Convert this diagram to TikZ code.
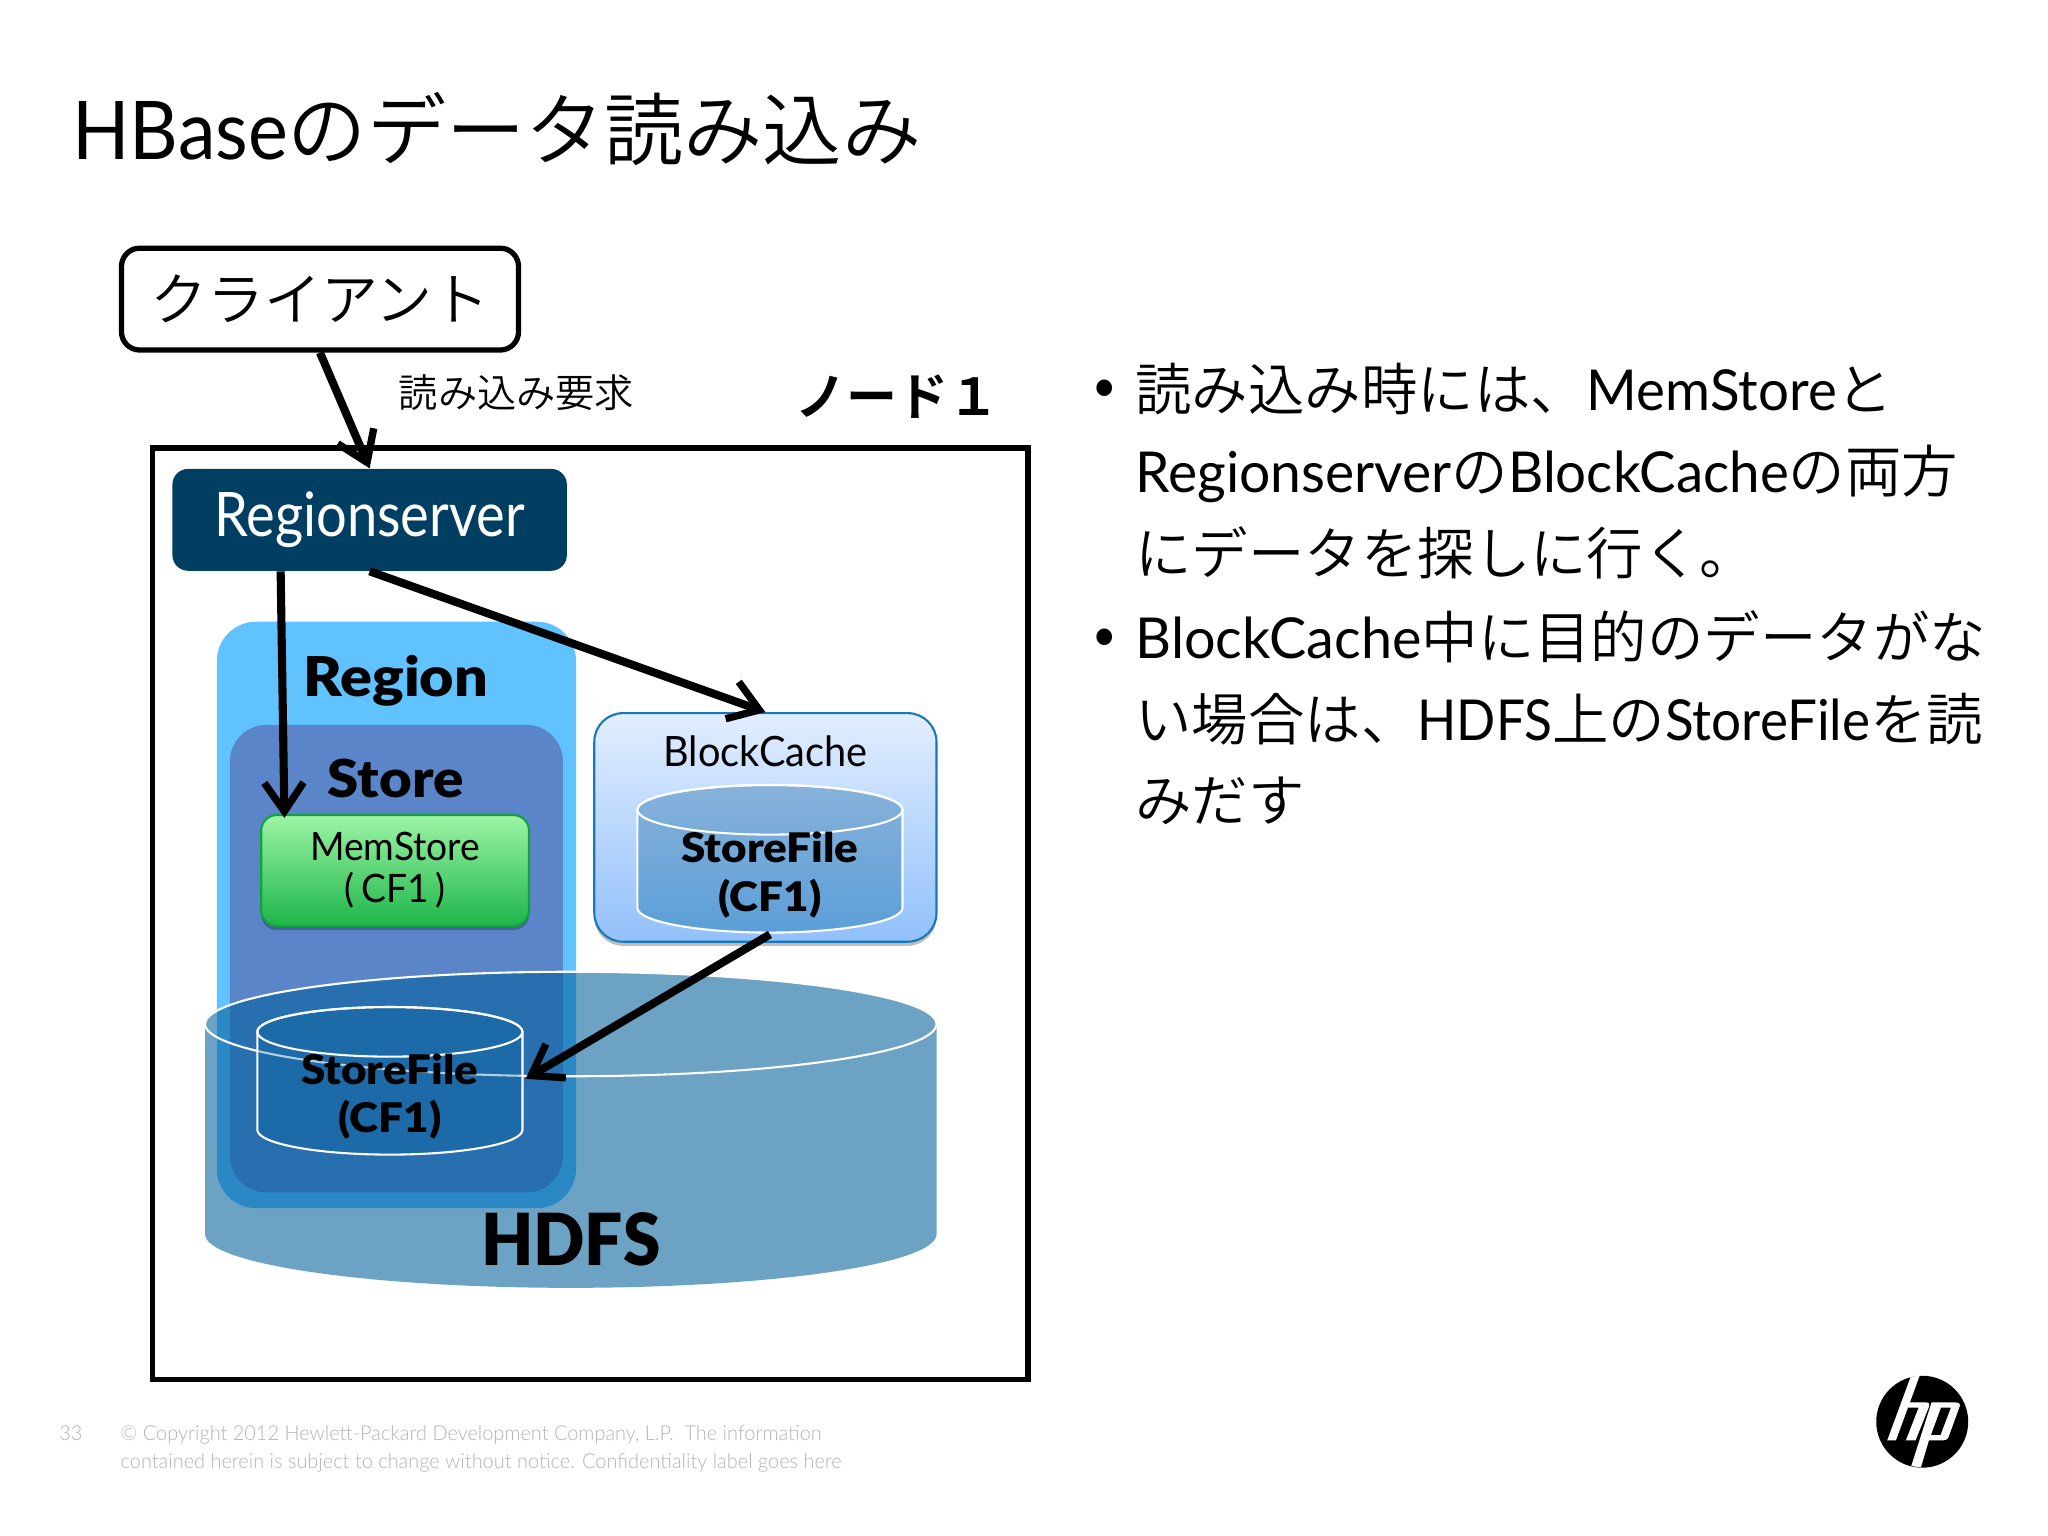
\documentclass[tikz,border=0pt]{standalone}
\usepackage{fontspec}
\usepackage{graphicx}
\usetikzlibrary{arrows.meta,calc,shadows,shadings}
\setmainfont{Lato}[FakeStretch=0.95]
\newfontfamily\lightf{Lato Light}[FakeStretch=0.97]
\newfontfamily\heavyf{Lato Black}[FakeStretch=1.08]
\newfontfamily\jp{Noto Sans CJK JP DemiLight}
\newfontfamily\jpb{Noto Sans CJK JP Bold}
\newcommand{\fsz}[2]{\fontsize{#1pt}{#2pt}\selectfont}
\newcommand{\wx}[2]{\scalebox{#1}[1]{#2}}
\definecolor{rsblue}{HTML}{003E62}
\definecolor{regionc}{HTML}{60C3FF}
\definecolor{storec}{HTML}{5B85C9}
\definecolor{hdfsc}{HTML}{03609B}
\definecolor{footc}{HTML}{B5B5B5}
\tikzset{
  flow/.style={line width=3.1pt,-{Straight Barb[length=11pt,width=15pt,line width=2.8pt]}},
  cylwire/.style={draw=white,line width=0.8pt},
  softshadow/.style={drop shadow={shadow xshift=0pt,shadow yshift=-1.6pt,opacity=.25,fill=black}},
  heavy/.style={font=\heavyf\fsz{15.6}{18.5},align=center,text=black,inner sep=0pt},
  bodyline/.style={anchor=base west,inner sep=0pt,font=\fsz{21.6}{26}},
  footline/.style={anchor=base west,inner sep=0pt,text=footc,font=\lightf\fsz{7.87}{10}},
}
\begin{document}
\begin{tikzpicture}[x=0.5pt,y=-0.5pt]
\useasboundingbox (0,0) rectangle (1568,1176);
\fill[white] (0,0) rectangle (1568,1176);

% title
\node[anchor=base west,inner sep=0pt,font=\fsz{30}{36}] (title) at (55,122) {\fontsize{31}{36}\selectfont\wx{.98}{HBase}{\jp\fontsize{30.3}{36}\selectfont のデータ読み込み}};

% client
\node[draw=black,line width=2pt,rounded corners=7pt,minimum width=152pt,minimum height=39pt,inner sep=0pt,font=\jp\fsz{21.8}{25},fill=white] (client) at (245,229) {\raisebox{1pt}{クライアント}};
\node[anchor=base west,inner sep=0pt,font=\jp\fsz{15}{18}] (req) at (305,312) {読み込み要求};
\node[anchor=base west,inner sep=0pt,font=\jpb\fsz{19.5}{24}] (node1) at (609,318) {ノード１};

% node frame
\node[draw=black,line width=2pt,minimum width=335pt,minimum height=356.5pt,inner sep=0pt] (frame) at (452,699.5) {};

% regionserver
\node[fill=rsblue,rounded corners=6pt,minimum width=151pt,minimum height=39pt,inner sep=0pt,text=white,font=\fsz{23.5}{28}] (rs) at (283,398) {\wx{.93}{Regionserver}};

% region, store
\fill[regionc,rounded corners=15pt] (166,476) rectangle (441,925);
\fill[storec,rounded corners=14pt] (176,555) rectangle (431,913);
\node[heavy,font=\heavyf\fsz{21}{24}] (regionlabel) at (303,521) {Region};
\node[heavy,font=\heavyf\fsz{20}{24}] (storelabel) at (303,596) {Store};

% memstore
\node[draw={rgb,255:red,18;green,160;blue,64},line width=0.8pt,rounded corners=6pt,top color={rgb,255:red,157;green,245;blue,165},bottom color={rgb,255:red,29;green,181;blue,74},softshadow,minimum width=102.5pt,minimum height=42.5pt,inner sep=0pt,align=center,font=\fsz{15}{16}] (mem) at (302.5,666.5) {MemStore\\(\,CF1\,)};

% blockcache
\node[draw={rgb,255:red,21;green,120;blue,184},line width=0.8pt,rounded corners=11pt,top color={rgb,255:red,226;green,238;blue,255},bottom color={rgb,255:red,146;green,192;blue,251},softshadow,minimum width=131pt,minimum height=87.5pt,inner sep=0pt] (cache) at (586,633.5) {};
\node[inner sep=0pt,font=\fsz{16}{20}] (cachelabel) at (586,575) {BlockCache};

% storefile in cache
\path[top color={rgb,255:red,135;green,178;blue,218},bottom color={rgb,255:red,92;green,158;blue,216}] (488,620) arc[start angle=180,end angle=360,x radius=101.5,y radius=19] -- (691,695) arc[start angle=0,end angle=180,x radius=101.5,y radius=19] -- cycle;
\draw[cylwire] (488,620) arc[start angle=180,end angle=360,x radius=101.5,y radius=19] -- (691,695) arc[start angle=0,end angle=180,x radius=101.5,y radius=19] -- cycle;
\draw[cylwire] (589.5,620) ellipse[x radius=101.5,y radius=19];
\node[heavy,minimum width=101.5pt,minimum height=47pt] (cfile) at (589.5,670) {StoreFile\\(CF1)};

% hdfs
\fill[hdfsc,opacity=.58] (157,784) arc[start angle=180,end angle=360,x radius=280,y radius=40] -- (717,945) arc[start angle=0,end angle=180,x radius=280,y radius=41] -- cycle;
\draw[cylwire] (437,784) ellipse[x radius=280,y radius=40];
\node[heavy,font=\heavyf\fsz{27.5}{32}] (hdfs) at (437,949) {\wx{.87}{HDFS}};

% storefile in hdfs
\fill[hdfsc,opacity=.3] (197,790) arc[start angle=180,end angle=360,x radius=101.5,y radius=19] -- (400,865) arc[start angle=0,end angle=180,x radius=101.5,y radius=19] -- cycle;
\draw[cylwire] (197,790) arc[start angle=180,end angle=360,x radius=101.5,y radius=19] -- (400,865) arc[start angle=0,end angle=180,x radius=101.5,y radius=19] -- cycle;
\draw[cylwire] (298.5,790) ellipse[x radius=101.5,y radius=19];
\node[heavy,minimum width=101.5pt,minimum height=47pt] (hfile) at (298.5,839.5) {StoreFile\\(CF1)};

% connectors
\draw[flow] (client.south) -- (rs.north);
\draw[flow] ($(rs.south west)!0.275!(rs.south east)$) -- ($(mem.north west)!0.09!(mem.north east)+(0,3)$);
\draw[flow] (rs.south) -- (cache.north);
\draw[flow] ($(cfile.south)+(0,-2)$) -- ($(hfile.east)+(2,-13.5)$);

% body text
\node[inner sep=0pt,font=\fsz{17}{20}] (b1) at (846,299) {•};
\node[inner sep=0pt,font=\fsz{17}{20}] (b2) at (846,490) {•};
\node[bodyline] (l1) at (869,314) {{\jp 読み込み時には、}\wx{1.02}{MemStore}{\jp と}};
\node[bodyline] (l2) at (869,377) {\wx{1.03}{Regionserver}{\jp の}\wx{1.02}{BlockCache}{\jp の両方}};
\node[bodyline] (l3) at (869,440) {{\jp にデータを探しに行く。}};
\node[bodyline] (l4) at (869,504) {\wx{1.04}{BlockCache}{\jp 中に目的のデータがな}};
\node[bodyline] (l5) at (869,567) {{\jp い場合は、}\wx{.96}{HDFS}{\jp 上の}\wx{.99}{StoreFile}{\jp を読}};
\node[bodyline] (l6) at (869,629) {{\jp みだす}};

% footer
\node[footline] (pg) at (45,1103) {33};
\node[footline] (f1) at (92,1103) {© Copyright 2012 Hewlett-Packard Development Company, L.P.\ \ The information};
\node[footline] (f2) at (92,1124) {contained herein is subject to change without notice. Confidentiality label goes here};

% logo
\fill[black] (1471.7,1088.5) circle[radius=35.2];
\begin{scope}[shift={(1471.7,1088.5)},x=0.1276pt,y=-0.1276pt,shift={(-157,-155)}]
\fill[white] (122,21) -- (150,15) -- (120,97) -- (168,97) .. controls (178,97) and (180,102) .. (178,108) -- (137,211) -- (108,211) -- (146,113) -- (114,113) -- (78,211) -- (52,211) -- cycle;
\fill[white,even odd rule] (185,97) -- (255,97) .. controls (268,97) and (272,102) .. (269,110) -- (237,198) .. controls (233,208) and (228,211) .. (220,211) -- (177,211) -- (153,292) -- (124,288) -- cycle
  (213,113) -- (243,113) -- (212,195) -- (183,195) -- cycle;
\end{scope}
\end{tikzpicture}
\end{document}
